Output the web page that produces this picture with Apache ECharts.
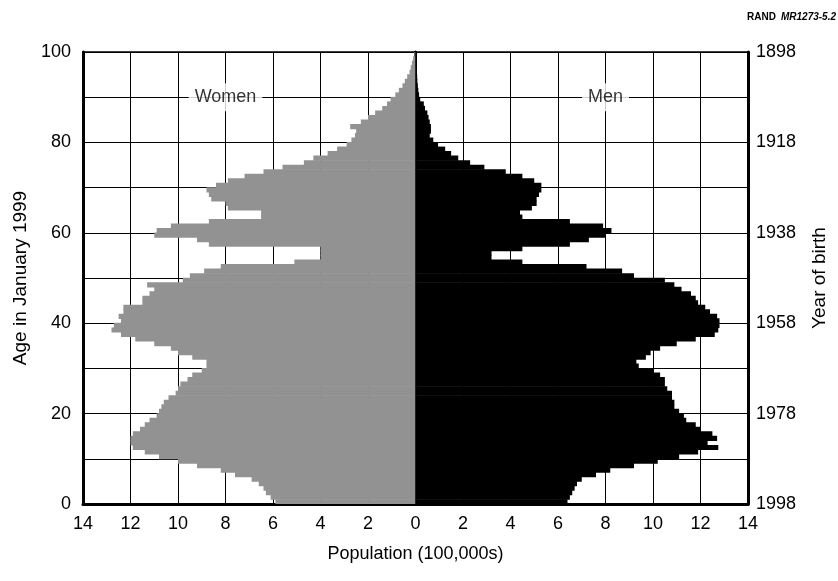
<!DOCTYPE html>
<html>
<head>
<meta charset="utf-8">
<script src="https://cdn.jsdelivr.net/npm/echarts/dist/echarts.min.js"></script>
<style>html,body{margin:0;padding:0;background:#fff;}#chart{width:838px;height:581px;}</style>
</head>
<body>
<div id="chart"></div>
<script>
// Ages 0..99 (single years), population in 100,000s
var ages = [];
for (var a = 0; a < 100; a++) ages.push(String(a));

var women = [
  5.9, 6.1, 6.3, 6.4, 6.6, 6.9, 7.6, 8.2, 9.2, 10.0,
  10.8, 11.4, 11.9, 12.0, 12.0, 11.9, 11.6, 11.4, 11.2, 10.9,
  10.8, 10.7, 10.6, 10.4, 10.1, 10.0, 9.9, 9.6, 9.4, 9.0,
  8.8, 8.8, 9.4, 10.0, 10.3, 11.0, 11.8, 12.4, 12.8, 12.7,
  12.4, 12.5, 12.3, 12.3, 11.5, 11.5, 11.2, 11.0, 11.3, 9.8,
  9.5, 8.9, 8.2, 5.1, 4.0, 4.0, 4.0, 8.7, 9.2, 11.0,
  10.9, 10.3, 8.7, 6.5, 6.5, 7.9, 8.0, 8.6, 8.7, 8.8,
  8.4, 7.9, 7.2, 6.4, 5.6, 4.7, 4.3, 3.7, 3.3, 2.9,
  2.7, 2.55, 2.5, 2.75, 2.3, 2.0, 1.7, 1.4, 1.2, 1.05,
  0.85, 0.7, 0.55, 0.45, 0.35, 0.25, 0.2, 0.15, 0.1, 0.05
];

var men = [
  6.4, 6.5, 6.6, 6.7, 6.8, 7.0, 7.6, 8.2, 9.2, 10.2,
  11.1, 11.9, 12.75, 12.3, 12.7, 12.5, 12.0, 11.8, 11.4, 11.3,
  11.1, 10.9, 10.9, 10.8, 10.8, 10.6, 10.5, 10.5, 10.3, 10.0,
  9.4, 9.3, 9.7, 9.9, 10.3, 11.0, 11.8, 12.6, 12.75, 12.8,
  12.8, 12.7, 12.4, 12.2, 11.9, 11.8, 11.6, 11.2, 10.9, 10.5,
  9.2, 8.7, 7.2, 4.5, 3.2, 3.2, 4.5, 6.5, 7.3, 8.0,
  8.25, 7.9, 6.5, 4.5, 4.4, 4.9, 5.1, 5.1, 5.2, 5.3,
  5.3, 5.0, 4.5, 3.8, 2.9, 2.3, 1.8, 1.5, 1.25, 0.95,
  0.75, 0.6, 0.65, 0.65, 0.6, 0.55, 0.5, 0.4, 0.35, 0.2,
  0.15, 0.12, 0.1, 0.08, 0.07, 0.05, 0.04, 0.03, 0.02, 0.02
];

var surveyYear = 1998;
var seriesNames = ['Women', 'Men'];

var FONT = '"Liberation Sans", Arial, Helvetica, sans-serif';
var GRAY = '#929292';
var chart = echarts.init(document.getElementById('chart'), null, {renderer: 'canvas'});

var option = {
  animation: false,
  backgroundColor: '#fff',
  title: {
    text: '{b|RAND} {i|MR1273-5.2}',
    right: 2, top: 8, padding: 0,
    textStyle: {
      rich: {
        b: {fontFamily: FONT, fontWeight: 'bold', fontSize: 10, color: '#000'},
        i: {fontFamily: FONT, fontStyle: 'italic', fontSize: 10, color: '#000'}
      }
    }
  },
  grid: {left: 83, right: 90, top: 52, bottom: 77, show: true, borderColor: '#000', borderWidth: 1.5},
  xAxis: {
    type: 'value', min: -14, max: 14, interval: 2,
    name: 'Population (100,000s)', nameLocation: 'middle', nameGap: 41,
    nameTextStyle: {fontFamily: FONT, fontSize: 18, color: '#000'},
    axisLine: {show: true, onZero: false, lineStyle: {color: '#000', width: 3}},
    axisTick: {show: false},
    axisLabel: {margin: 11, fontFamily: FONT, fontSize: 18, color: '#000', formatter: function (v) { return Math.abs(v); }},
    splitLine: {show: true, lineStyle: {color: '#000', width: 1}}
  },
  yAxis: [
    {
      type: 'category', data: ages, boundaryGap: true,
      axisLine: {show: true, onZero: true, lineStyle: {color: '#000', width: 3}},
      axisTick: {show: false}, axisLabel: {show: false}, splitLine: {show: false}
    },
    {
      type: 'value', min: 0, max: 100, interval: 10, position: 'left',
      name: 'Age in January 1999', nameLocation: 'middle', nameGap: 50, nameRotate: 90,
      nameTextStyle: {fontFamily: FONT, fontSize: 19, color: '#000'},
      axisLine: {show: true, onZero: false, lineStyle: {color: '#000', width: 3}},
      axisTick: {show: false},
      axisLabel: {margin: 12, fontFamily: FONT, fontSize: 18, color: '#000',
        formatter: function (v) { return v % 20 === 0 ? v : ''; }},
      splitLine: {show: true, lineStyle: {color: '#000', width: 1}}
    },
    {
      type: 'value', min: 0, max: 100, interval: 10, position: 'right',
      name: 'Year of birth', nameLocation: 'middle', nameGap: 62, nameRotate: 90,
      nameTextStyle: {fontFamily: FONT, fontSize: 19, color: '#000'},
      axisLine: {show: true, onZero: false, lineStyle: {color: '#000', width: 3}},
      axisTick: {show: false},
      axisLabel: {margin: 8, fontFamily: FONT, fontSize: 18, color: '#000',
        formatter: function (v) { return v % 20 === 0 ? String(surveyYear - v) : ''; }},
      splitLine: {show: false}
    }
  ],
  series: [
    {
      name: seriesNames[0], type: 'bar', xAxisIndex: 0, yAxisIndex: 0,
      data: women.map(function (v) { return -v; }),
      barWidth: '115%', barGap: '-100%',
      itemStyle: {color: GRAY}, z: 3
    },
    {
      name: seriesNames[1], type: 'bar', xAxisIndex: 0, yAxisIndex: 0,
      data: men,
      barWidth: '115%', barGap: '-100%',
      itemStyle: {color: '#000'}, z: 3
    },
    {
      type: 'scatter', xAxisIndex: 0, yAxisIndex: 1, symbolSize: 0, z: 10,
      data: [[-8, 90, seriesNames[0]], [8, 90, seriesNames[1]]],
      label: {
        show: true, position: 'inside', formatter: function (p) { return p.data[2]; },
        fontFamily: FONT, fontSize: 18, color: '#000', backgroundColor: '#fff', padding: [5, 6]
      }
    }
  ]
};
chart.setOption(option);
</script>
</body>
</html>
